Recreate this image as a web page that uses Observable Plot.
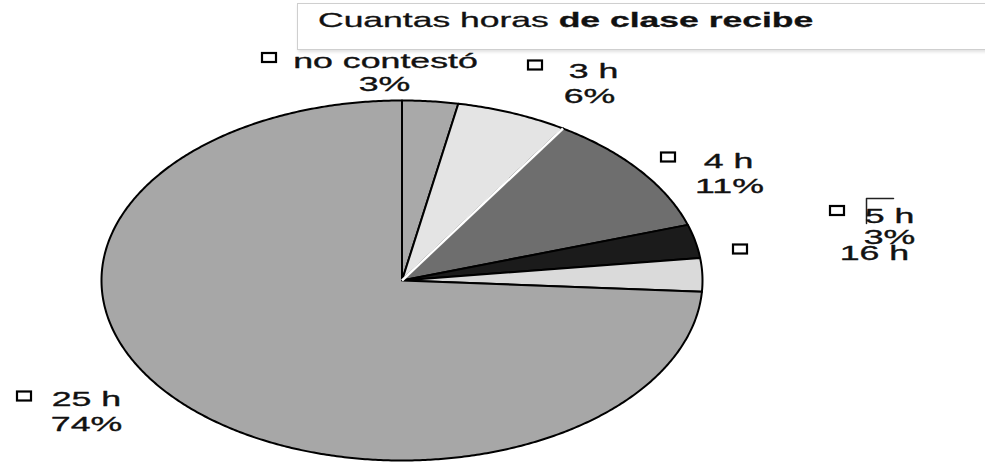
<!DOCTYPE html>
<html>
<head>
<meta charset="utf-8">
<script src="https://cdn.jsdelivr.net/npm/d3@7"></script>
<script src="https://cdn.jsdelivr.net/npm/@observablehq/plot@0.6"></script>
<style>
  html, body { margin: 0; padding: 0; background: #fff; }
  #wrap { position: relative; width: 985px; height: 474px; overflow: hidden; font-family: "Liberation Sans", Arial, sans-serif; }
  #titlebox { position: absolute; left: 297px; top: 3px; width: 720px; height: 45px; border: 1.5px solid #cfcfcf; background: #fff; box-shadow: 1px 2px 3px rgba(0,0,0,0.12); }
  #title { position: absolute; left: 318px; top: 8px; font-size: 21px; color: #111; white-space: nowrap; transform: scaleX(1.69); transform-origin: 0 0; -webkit-text-stroke: 0.3px #111; }
  #title b { font-weight: bold; }
  #chart { position: absolute; left: 0; top: 0; }
</style>
</head>
<body>
<div id="wrap">
  <div id="chart"></div>
  <div id="titlebox"></div>
  <div id="title">Cuantas horas <b>de clase recibe</b></div>
</div>
<script>
// ---- data ----
const categories = ["no contestó", "3 h", "4 h", "5 h", "16 h", "25 h"];
const percents   = [3, 6, 11, 3, 3, 74];
const shades     = ["#a9a9a9", "#e4e4e4", "#6e6e6e", "#1b1b1b", "#dadada", "#a7a7a7"];
const pctLabels  = ["3%", "6%", "11%", "3%", "", "74%"];

// ---- layout (label placement, px) ----
const labelLayout = [
  {sq: [269, 57.5], t1: [385, 67], t2: [384, 90]},
  {sq: [535, 65],   t1: [593, 77], t2: [589, 102]},
  {sq: [668, 157],  t1: [728, 167], t2: [729, 192]},
  {sq: [837, 210.5],t1: [889, 222], t2: [889, 243]},
  {sq: [740, 249],  t1: [874, 259], t2: null},
  {sq: [24, 396],   t1: [86, 405], t2: [86, 430]}
];

const X = d3.scaleLinear([-1, 1], [101, 702]);
const Y = d3.scaleLinear([-1, 1], [460, 100]);

// slices
const total = d3.sum(percents);
const points = [];
const edges = [];
let acc = 0;
categories.forEach((c, i) => {
  const a0 = acc / total * 2 * Math.PI;
  acc += percents[i];
  const a1 = acc / total * 2 * Math.PI;
  points.push({cat: c, color: shades[i], x: 0, y: 0});
  const n = Math.max(4, Math.ceil((a1 - a0) / (Math.PI / 360)));
  for (let k = 0; k <= n; k++) {
    const a = a0 + (a1 - a0) * k / n;
    points.push({cat: c, color: shades[i], x: Math.sin(a), y: Math.cos(a)});
  }
  points.push({cat: c, color: shades[i], x: 0, y: 0});
  edges.push({cat: c, x: Math.sin(a0), y: Math.cos(a0)});
});
// the edge between "3 h" and "4 h" is drawn white in the original
const whiteEdges = edges.filter(e => e.cat === "4 h");

const squares = labelLayout.map(l => ({
  x1: X.invert(l.sq[0] - 7), x2: X.invert(l.sq[0] + 7),
  y1: Y.invert(l.sq[1] - 4.5), y2: Y.invert(l.sq[1] + 4.5)
}));
const texts = [];
labelLayout.forEach((l, i) => {
  texts.push({x: X.invert(l.t1[0]), y: Y.invert(l.t1[1]), text: categories[i]});
  if (l.t2 && pctLabels[i]) texts.push({x: X.invert(l.t2[0]), y: Y.invert(l.t2[1]), text: pctLabels[i]});
});
// small label-box artifact next to "5 h"
const bracket = [
  {x: X.invert(866), y: Y.invert(223)},
  {x: X.invert(866), y: Y.invert(198)},
  {x: X.invert(893), y: Y.invert(198)}
];

const chart = Plot.plot({
  width: 985,
  height: 474,
  margin: 0,
  x: {domain: X.domain(), range: X.range(), axis: null},
  y: {domain: Y.domain(), range: Y.range(), axis: null},
  color: {type: "identity"},
  marks: [
    Plot.line(points, {x: "x", y: "y", z: "cat", fill: "color", stroke: "#000", strokeWidth: 2, strokeLinejoin: "round", curve: "linear"}),
    Plot.link(whiteEdges, {x1: 0, y1: 0, x2: "x", y2: "y", stroke: "#fff", strokeWidth: 2.5}),
    Plot.rect(squares, {x1: "x1", x2: "x2", y1: "y1", y2: "y2", fill: "#fff", stroke: "#000", strokeWidth: 2.2}),
    Plot.line(bracket, {x: "x", y: "y", stroke: "#222", strokeWidth: 1.5}),
    Plot.text(texts, {x: "x", y: "y", text: "text", textAnchor: "middle", lineAnchor: "bottom", fontSize: 21, fill: "#111", stroke: "#111", strokeWidth: 0.35, fontFamily: "Liberation Sans, Arial, sans-serif"})
  ]
});
// stretch label text horizontally like the original
chart.querySelectorAll('g[aria-label="text"] text').forEach(t => {
  const tr = t.getAttribute("transform");
  if (tr) t.setAttribute("transform", tr + " scale(1.7,1)");
  else {
    const x = t.getAttribute("x") || 0, y = t.getAttribute("y") || 0;
    t.setAttribute("transform", `translate(${x},${y}) scale(1.7,1)`);
    t.setAttribute("x", 0); t.setAttribute("y", 0);
  }
});
document.getElementById("chart").appendChild(chart);
</script>
</body>
</html>
